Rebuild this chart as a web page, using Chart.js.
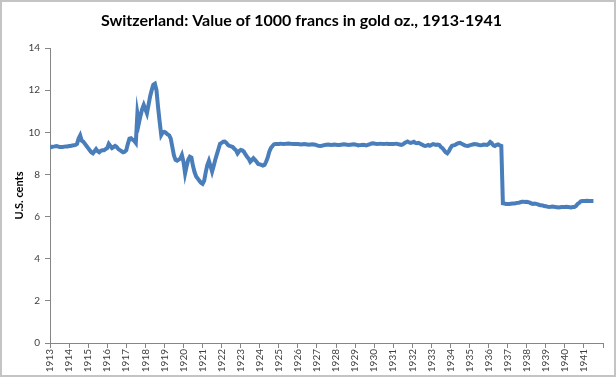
<!DOCTYPE html>
<html>
<head>
<meta charset="utf-8">
<script src="https://cdn.jsdelivr.net/npm/chart.js@4.4.1/dist/chart.umd.min.js"></script>
<style>
  html, body { margin: 0; padding: 0; background: #fff; }
  canvas { display: block; }
</style>
</head>
<body>
<canvas id="chart" width="616" height="377"></canvas>
<script>
// Monthly values, 1000 francs in gold oz (chart labels them "U.S. cents")
const firstYear = 1913;
const yearLabels = [1913, 1914, 1915, 1916, 1917, 1918, 1919, 1920, 1921, 1922, 1923, 1924, 1925, 1926,
  1927, 1928, 1929, 1930, 1931, 1932, 1933, 1934, 1935, 1936, 1937, 1938, 1939, 1940, 1941];

const v1913 = [9.33, 9.3, 9.32, 9.33, 9.35, 9.33, 9.3, 9.3, 9.3, 9.32, 9.33, 9.33];
const v1914 = [9.35, 9.35, 9.37, 9.38, 9.4, 9.45, 9.7, 9.85, 9.6, 9.55, 9.45, 9.35];
const v1915 = [9.25, 9.15, 9.05, 9.0, 9.1, 9.2, 9.1, 9.05, 9.12, 9.15, 9.15, 9.2];
const v1916 = [9.25, 9.45, 9.35, 9.25, 9.3, 9.35, 9.3, 9.2, 9.15, 9.1, 9.05, 9.08];
const v1917 = [9.15, 9.45, 9.7, 9.72, 9.65, 9.6, 9.5, 10.9, 10.45, 10.8, 11.1, 11.3];
const v1918 = [11.1, 10.9, 11.3, 11.7, 12.0, 12.25, 12.3, 12.0, 11.2, 10.5, 9.87, 10.0];
const v1919 = [10.02, 9.97, 9.9, 9.85, 9.7, 9.3, 8.9, 8.69, 8.65, 8.7, 8.75, 8.92];
const v1920 = [8.6, 8.05, 8.4, 8.7, 8.84, 8.8, 8.4, 8.1, 7.9, 7.8, 7.7, 7.6];
const v1921 = [7.55, 7.7, 8.1, 8.45, 8.65, 8.4, 8.13, 8.4, 8.7, 8.95, 9.2, 9.45];
const v1922 = [9.5, 9.55, 9.56, 9.5, 9.4, 9.35, 9.33, 9.3, 9.22, 9.15, 9.0, 9.1];
const v1923 = [9.16, 9.14, 9.08, 8.95, 8.84, 8.75, 8.6, 8.68, 8.77, 8.69, 8.6, 8.5];
const v1924 = [8.48, 8.45, 8.42, 8.45, 8.6, 8.8, 9.08, 9.25, 9.35, 9.43, 9.45, 9.45];
const v1925 = [9.45, 9.46, 9.45, 9.44, 9.45, 9.46, 9.47, 9.46, 9.45, 9.44, 9.45, 9.45];
const v1926 = [9.44, 9.43, 9.42, 9.43, 9.44, 9.43, 9.42, 9.41, 9.42, 9.43, 9.42, 9.41];
const v1927 = [9.38, 9.36, 9.35, 9.36, 9.38, 9.4, 9.41, 9.42, 9.41, 9.4, 9.41, 9.42];
const v1928 = [9.41, 9.4, 9.4, 9.41, 9.42, 9.43, 9.42, 9.41, 9.4, 9.41, 9.42, 9.43];
const v1929 = [9.42, 9.4, 9.38, 9.39, 9.4, 9.41, 9.4, 9.38, 9.4, 9.43, 9.46, 9.48];
const v1930 = [9.47, 9.45, 9.44, 9.45, 9.46, 9.45, 9.44, 9.45, 9.46, 9.45, 9.45, 9.44];
const v1931 = [9.44, 9.45, 9.46, 9.44, 9.42, 9.4, 9.42, 9.48, 9.53, 9.56, 9.52, 9.5];
const v1932 = [9.52, 9.55, 9.5, 9.48, 9.5, 9.46, 9.42, 9.38, 9.35, 9.37, 9.4, 9.36];
const v1933 = [9.4, 9.44, 9.42, 9.4, 9.42, 9.4, 9.3, 9.24, 9.15, 9.05, 9.0, 9.1];
const v1934 = [9.25, 9.36, 9.38, 9.4, 9.45, 9.48, 9.5, 9.46, 9.42, 9.38, 9.36, 9.35];
const v1935 = [9.38, 9.4, 9.42, 9.44, 9.43, 9.42, 9.4, 9.39, 9.4, 9.42, 9.41, 9.4];
const v1936 = [9.45, 9.54, 9.48, 9.38, 9.35, 9.4, 9.42, 9.38, 9.35, 6.63, 6.62, 6.6];
const v1937 = [6.6, 6.6, 6.61, 6.62, 6.62, 6.63, 6.65, 6.66, 6.68, 6.7, 6.7, 6.69];
const v1938 = [6.7, 6.68, 6.66, 6.62, 6.6, 6.62, 6.6, 6.58, 6.55, 6.54, 6.53, 6.5];
const v1939 = [6.49, 6.47, 6.45, 6.46, 6.48, 6.47, 6.45, 6.44, 6.43, 6.44, 6.45, 6.45];
const v1940 = [6.45, 6.46, 6.45, 6.44, 6.43, 6.45, 6.45, 6.5, 6.6, 6.65, 6.72, 6.74];
const v1941 = [6.74, 6.74, 6.75, 6.74, 6.74, 6.74, 6.74];

const monthly = [].concat(v1913, v1914, v1915, v1916, v1917, v1918, v1919, v1920, v1921, v1922,
  v1923, v1924, v1925, v1926, v1927, v1928, v1929, v1930, v1931, v1932, v1933, v1934, v1935,
  v1936, v1937, v1938, v1939, v1940, v1941);

// month index -> decimal year on a linear axis
const points = monthly.map((v, i) => ({ x: firstYear + i / 12, y: v }));

const axisGray = '#868686';
const labelColor = '#404040';
const font = 'Lato, "Open Sans", sans-serif';

const frame = {
  id: 'frame',
  beforeDraw(chart) {
    const c = chart.ctx;
    c.save();
    c.fillStyle = '#fff';
    c.fillRect(0, 0, chart.width, chart.height);
    c.restore();
  },
  afterDraw(chart) {
    const c = chart.ctx;
    c.save();
    c.strokeStyle = '#c4c4c4';
    c.lineWidth = 2;
    c.strokeRect(1, 1, chart.width - 2, chart.height - 2);
    c.restore();
  }
};

new Chart(document.getElementById('chart'), {
  type: 'line',
  data: {
    datasets: [{
      data: points,
      borderColor: '#4A7EBB',
      borderWidth: 4,
      pointRadius: 0,
      tension: 0,
      fill: false
    }]
  },
  options: {
    responsive: false,
    animation: false,
    layout: { padding: { left: 0, right: 13, top: 0, bottom: 0 } },
    plugins: {
      legend: { display: false },
      tooltip: { enabled: false },
      title: {
        display: true,
        text: 'Switzerland: Value of 1000 francs in gold oz., 1913-1941',
        color: '#000',
        font: { family: font, size: 16, weight: 'bold', lineHeight: 1.2 },
        padding: { top: 11, bottom: 17.8 }
      }
    },
    scales: {
      x: {
        type: 'linear',
        min: firstYear,
        max: yearLabels[yearLabels.length - 1] + 1,
        afterBuildTicks(scale) {
          scale.ticks = yearLabels.concat([yearLabels[yearLabels.length - 1] + 1]).map(v => ({ value: v }));
        },
        afterFit(scale) { scale.height = 34; },
        border: { display: true, color: axisGray, width: 1 },
        grid: { display: true, drawOnChartArea: false, drawTicks: true, tickLength: 5, color: axisGray },
        ticks: {
          autoSkip: false,
          minRotation: 90,
          maxRotation: 90,
          padding: 1,
          color: labelColor,
          font: { family: font, size: 10 },
          callback: v => (yearLabels.includes(v) ? String(v) : '')
        }
      },
      y: {
        min: 0,
        max: 14,
        afterFit(scale) { scale.width = 50; },
        border: { display: true, color: axisGray, width: 1 },
        grid: { display: true, drawOnChartArea: false, drawTicks: true, tickLength: 5, color: axisGray },
        ticks: {
          stepSize: 2,
          padding: 5,
          color: labelColor,
          font: { family: font, size: 10 }
        },
        title: {
          display: true,
          text: 'U.S. cents',
          color: '#000',
          font: { family: font, size: 11, weight: 'bold' },
          padding: { top: 13, bottom: 4 }
        }
      }
    }
  },
  plugins: [frame]
});
</script>
</body>
</html>
